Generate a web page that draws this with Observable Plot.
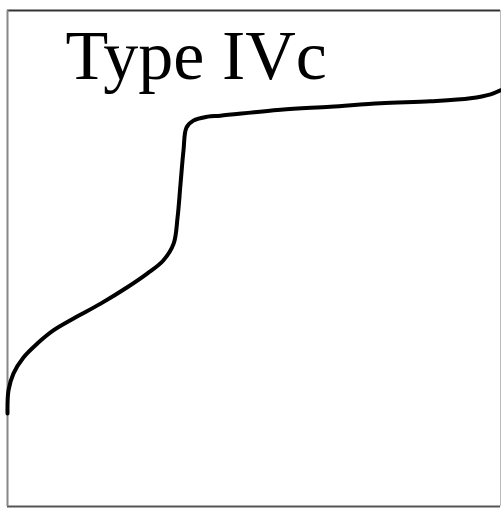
<!DOCTYPE html>
<html>
<head>
<meta charset="utf-8">
<script src="https://cdn.jsdelivr.net/npm/d3@7"></script>
<script src="https://cdn.jsdelivr.net/npm/@observablehq/plot@0.6"></script>
<style>
  html, body { margin: 0; padding: 0; background: #fff; }
  #chart svg { display: block; }
</style>
</head>
<body>
<div id="chart"></div>
<script>
// Isotherm curve (relative pressure on x, amount adsorbed on y, arbitrary 0-100 units)
const xValues = [0, 0.2, 1.2, 3.2, 6.1, 9.3, 13.4, 18.9, 24.3, 28.4, 31.6, 33.7, 34.5, 35.1, 35.7, 36.3, 37.7, 40.6, 43.2, 55.4, 65.5, 75.7, 85.8, 93.9, 98.0, 100];
const yValues = [18.75, 23.4, 26.8, 30.0, 32.9, 35.5, 37.9, 40.9, 44.2, 47.0, 49.6, 53.0, 58.3, 65.1, 71.8, 76.4, 77.8, 78.6, 78.8, 80.0, 80.6, 81.3, 81.7, 82.3, 83.1, 83.9];
const titleText = ["Type IVc"];

const points = xValues.map((x, i) => ({x, y: yValues[i]}));

const chart = Plot.plot({
  width: 501,
  height: 509,
  marginLeft: 7,
  marginTop: 10,
  marginRight: 1,
  marginBottom: 3,
  x: {domain: [0, 100], axis: null},
  y: {domain: [0, 100], axis: null},
  marks: [
    Plot.ruleY([100], {stroke: "#333", strokeWidth: 2}),
    Plot.ruleY([0], {stroke: "#555", strokeWidth: 2}),
    Plot.ruleX([0], {stroke: "#888", strokeWidth: 2}),
    Plot.ruleX([100], {stroke: "#bbb", strokeWidth: 1}),
    Plot.line(points, {x: "x", y: "y", curve: "catmull-rom", stroke: "#000", strokeWidth: 4}),
    Plot.text(titleText, {
      text: d => d,
      frameAnchor: "top-left",
      dx: 58,
      dy: 19,
      textAnchor: "start",
      lineAnchor: "top",
      fontFamily: "Liberation Serif",
      fontSize: 70,
      fill: "#000"
    })
  ]
});
document.getElementById("chart").appendChild(chart);
</script>
</body>
</html>
